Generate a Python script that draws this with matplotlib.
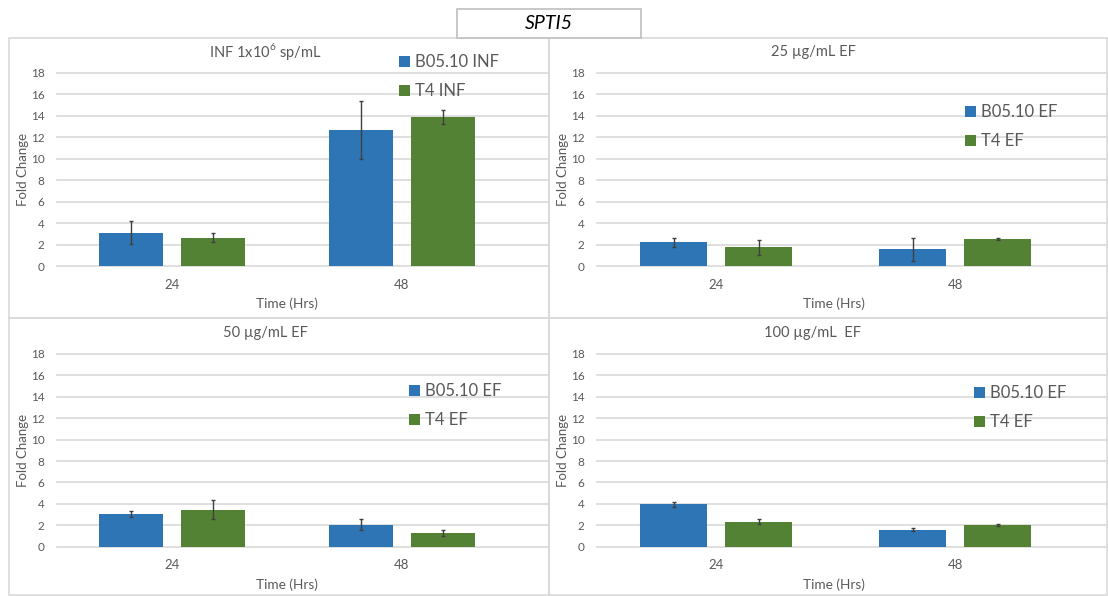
import numpy as np
import matplotlib
matplotlib.use("Agg")
from matplotlib import pyplot as plt
from matplotlib.patches import Rectangle

plt.rcParams['font.family'] = ['Lato', 'DejaVu Sans']
plt.rcParams['mathtext.fontset'] = 'custom'
plt.rcParams['mathtext.rm'] = 'Lato'

# Gene expression (fold change) at 24 and 48 h
hours = ['24', '48']
gene = 'SPTI5'

inf_b0510 = [3.1, 12.7]
inf_b0510_err = [1.05, 2.7]
inf_t4 = [2.65, 13.9]
inf_t4_err = [0.4, 0.65]

ef25_b0510 = [2.2, 1.55]
ef25_b0510_err = [0.4, 1.07]
ef25_t4 = [1.75, 2.55]
ef25_t4_err = [0.68, 0.1]

ef50_b0510 = [3.05, 2.05]
ef50_b0510_err = [0.27, 0.5]
ef50_t4 = [3.45, 1.3]
ef50_t4_err = [0.87, 0.3]

ef100_b0510 = [3.95, 1.6]
ef100_b0510_err = [0.25, 0.15]
ef100_t4 = [2.35, 2.0]
ef100_t4_err = [0.25, 0.1]

yticks = [0, 2, 4, 6, 8, 10, 12, 14, 16, 18]

BLUE = '#2E75B6'
GREEN = '#548235'
GRID = '#D9D9D9'
TEXT = '#595959'

W, H = 1108, 596
fig = plt.figure(figsize=(W / 100, H / 100), dpi=100)


def fx(x):
    return x / W


def fy(y):
    return 1 - y / H


# panel borders
for x0, y0, x1, y1 in [(9, 38, 549, 318), (549, 38, 1107, 318),
                       (9, 318, 549, 595), (549, 318, 1107, 595)]:
    fig.patches.append(Rectangle((fx(x0), fy(y1)), fx(x1 - x0), (y1 - y0) / H,
                                 transform=fig.transFigure, fill=False,
                                 edgecolor=GRID, linewidth=1.2))

panels = [
    # title, series, plot box (px), title pos, label anchors
    dict(title='INF 1x10$^{\\mathrm{6}}$ sp/mL', suffix='INF',
         data=(inf_b0510, inf_b0510_err, inf_t4, inf_t4_err),
         box=(57, 72.7, 549, 266), title_xy=(265, 52), xlab_xy=(287, 304),
         ylab_xy=(23, 169), leg_xy=(399, 54)),
    dict(title='25 µg/mL EF', suffix='EF',
         data=(ef25_b0510, ef25_b0510_err, ef25_t4, ef25_t4_err),
         box=(597, 72.7, 1108, 266), title_xy=(813, 52), xlab_xy=(834, 304),
         ylab_xy=(563, 169), leg_xy=(965, 104)),
    dict(title='50 µg/mL EF', suffix='EF',
         data=(ef50_b0510, ef50_b0510_err, ef50_t4, ef50_t4_err),
         box=(57, 354, 549, 546.7), title_xy=(265, 333), xlab_xy=(287, 585),
         ylab_xy=(23, 450), leg_xy=(409, 383)),
    dict(title='100 µg/mL  EF', suffix='EF',
         data=(ef100_b0510, ef100_b0510_err, ef100_t4, ef100_t4_err),
         box=(597, 354, 1108, 546.7), title_xy=(813, 333), xlab_xy=(834, 585),
         ylab_xy=(563, 450), leg_xy=(974, 385)),
]

x = np.arange(len(hours))
width = 0.28
offset = 0.178

for p in panels:
    x0, y0, x1, y1 = p['box']
    ax = fig.add_axes([fx(x0), fy(y1), fx(x1 - x0), (y1 - y0) / H])
    b, berr, t, terr = p['data']
    err_kw = dict(ecolor='#404040', elinewidth=1, capsize=1.5, capthick=1)
    ax.bar(x - offset, b, width, yerr=berr, color=BLUE, error_kw=err_kw,
           label='B05.10 ' + p['suffix'], zorder=3)
    ax.bar(x + offset, t, width, yerr=terr, color=GREEN, error_kw=err_kw,
           label='T4 ' + p['suffix'], zorder=3)

    ax.set_xlim(-0.5, 1.64)
    ax.set_ylim(0, 18)
    ax.set_yticks(yticks)
    ax.set_xticks(x)
    ax.set_xticklabels(hours)
    for yv in yticks:
        ax.axhline(yv, color=GRID, linewidth=1.2, zorder=1, clip_on=False)
    for s in ax.spines.values():
        s.set_visible(False)
    ax.tick_params(axis='y', length=0, pad=9, labelsize=8.5, labelcolor=TEXT)
    ax.tick_params(axis='x', length=0, pad=9, labelsize=9.5, labelcolor=TEXT)
    ax.patch.set_alpha(0)

    fig.text(fx(p['title_xy'][0]), fy(p['title_xy'][1]), p['title'],
             ha='center', va='center', fontsize=10.5, color=TEXT)
    fig.text(fx(p['xlab_xy'][0]), fy(p['xlab_xy'][1]), 'Time (Hrs)',
             ha='center', va='center', fontsize=9.8, color=TEXT)
    fig.text(fx(p['ylab_xy'][0]), fy(p['ylab_xy'][1]), 'Fold Change',
             ha='center', va='center', rotation=90, fontsize=9.5, color=TEXT)

    leg = ax.legend(loc='upper left',
                    bbox_to_anchor=(fx(p['leg_xy'][0]), fy(p['leg_xy'][1])),
                    bbox_transform=fig.transFigure, frameon=False,
                    fontsize=12, handlelength=0.65, handleheight=0.65,
                    handletextpad=0.3, labelspacing=0.8, borderpad=0,
                    borderaxespad=0)
    for txt in leg.get_texts():
        txt.set_color(TEXT)

# gene name box
fig.patches.append(Rectangle((fx(457), fy(38)), fx(641 - 457), 29 / H,
                             transform=fig.transFigure, facecolor='white',
                             edgecolor='#BFBFBF', linewidth=1.2, zorder=5))
fig.text(fx(549), fy(23.5), gene, ha='center', va='center', fontsize=14,
         style='italic', color='black', zorder=6)

fig.savefig('out.png', dpi=100, facecolor='white')
